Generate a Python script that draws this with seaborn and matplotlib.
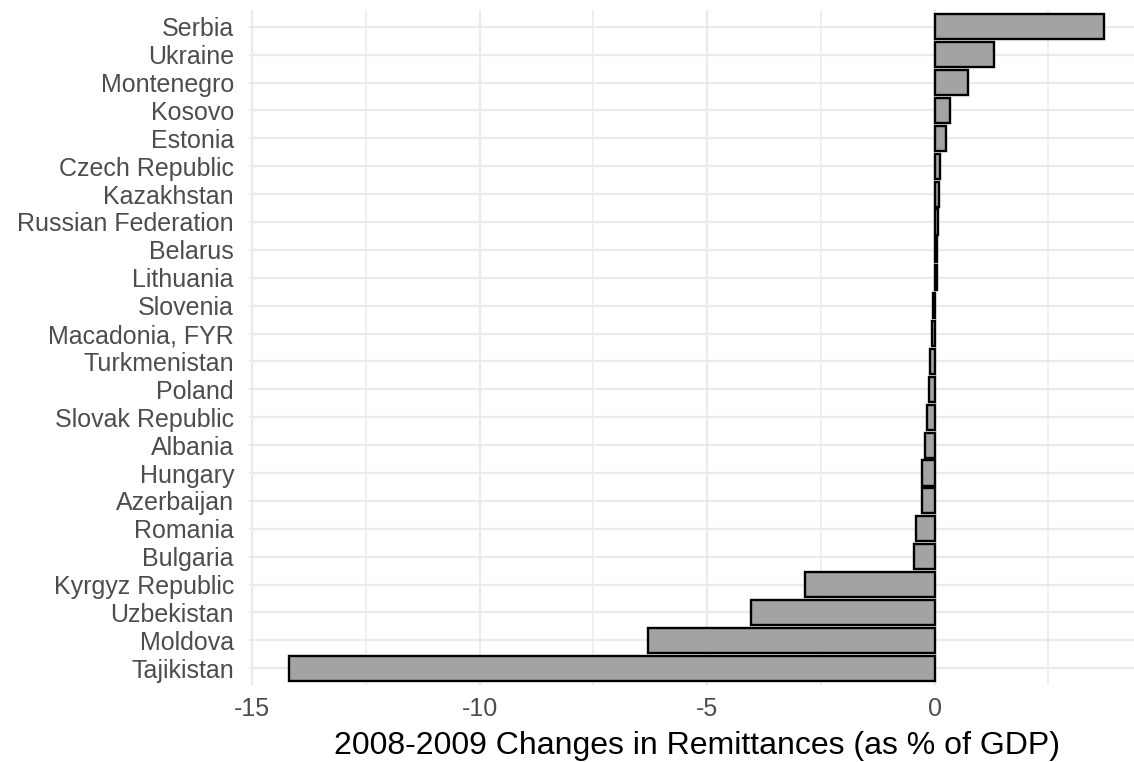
import matplotlib
matplotlib.use("Agg")
import matplotlib.pyplot as plt
import seaborn as sns
import pandas as pd
from matplotlib.ticker import MultipleLocator

countries = ["Serbia", "Ukraine", "Montenegro", "Kosovo", "Estonia", "Czech Republic",
             "Kazakhstan", "Russian Federation", "Belarus", "Lithuania", "Slovenia",
             "Macadonia, FYR", "Turkmenistan", "Poland", "Slovak Republic", "Albania",
             "Hungary", "Azerbaijan", "Romania", "Bulgaria", "Kyrgyz Republic",
             "Uzbekistan", "Moldova", "Tajikistan"]
changes = [3.71, 1.31, 0.73, 0.34, 0.24, 0.12,
           0.09, 0.07, 0.06, 0.04, -0.04,
           -0.07, -0.11, -0.12, -0.17, -0.22,
           -0.27, -0.29, -0.42, -0.46, -2.86,
           -4.03, -6.31, -14.18]
xticks = [-15, -10, -5, 0]
xlabel = "2008-2009 Changes in Remittances (as % of GDP)"

df = pd.DataFrame({"country": countries, "change": changes})

sns.set_style("white")
plt.rcParams["font.family"] = ["Liberation Sans", "DejaVu Sans"]

fig = plt.figure(figsize=(11.34, 7.62), dpi=100)
ax = fig.add_axes([249 / 1134, 1 - 685 / 762, (1144 - 249) / 1134, (685 - 10) / 762])

sns.barplot(data=df, x="change", y="country", order=countries, orient="h",
            color="#A3A3A3", saturation=1, width=0.9, edgecolor="black",
            linewidth=1.7, ax=ax, zorder=3)

ax.set_xlim(-15.07, 4.6)
ax.set_ylim(len(countries) - 0.4, -0.6)
ax.set_xticks(xticks)
ax.set_xticklabels([str(t) for t in xticks])
ax.xaxis.set_minor_locator(MultipleLocator(2.5))
ax.grid(True, which="major", axis="both", color="#EBEBEB", linewidth=1.6, zorder=0)
ax.grid(True, which="minor", axis="x", color="#EBEBEB", linewidth=1.1, zorder=0)
ax.set_axisbelow(True)
for s in ax.spines.values():
    s.set_visible(False)
ax.tick_params(axis="both", which="both", length=0, labelsize=18, labelcolor="#4D4D4D")
ax.tick_params(axis="y", pad=10.8)
ax.tick_params(axis="x", pad=8.5)
ax.set_ylabel("")
ax.set_xlabel(xlabel, fontsize=23, color="black", labelpad=7)

fig.savefig("out.png", dpi=100)
